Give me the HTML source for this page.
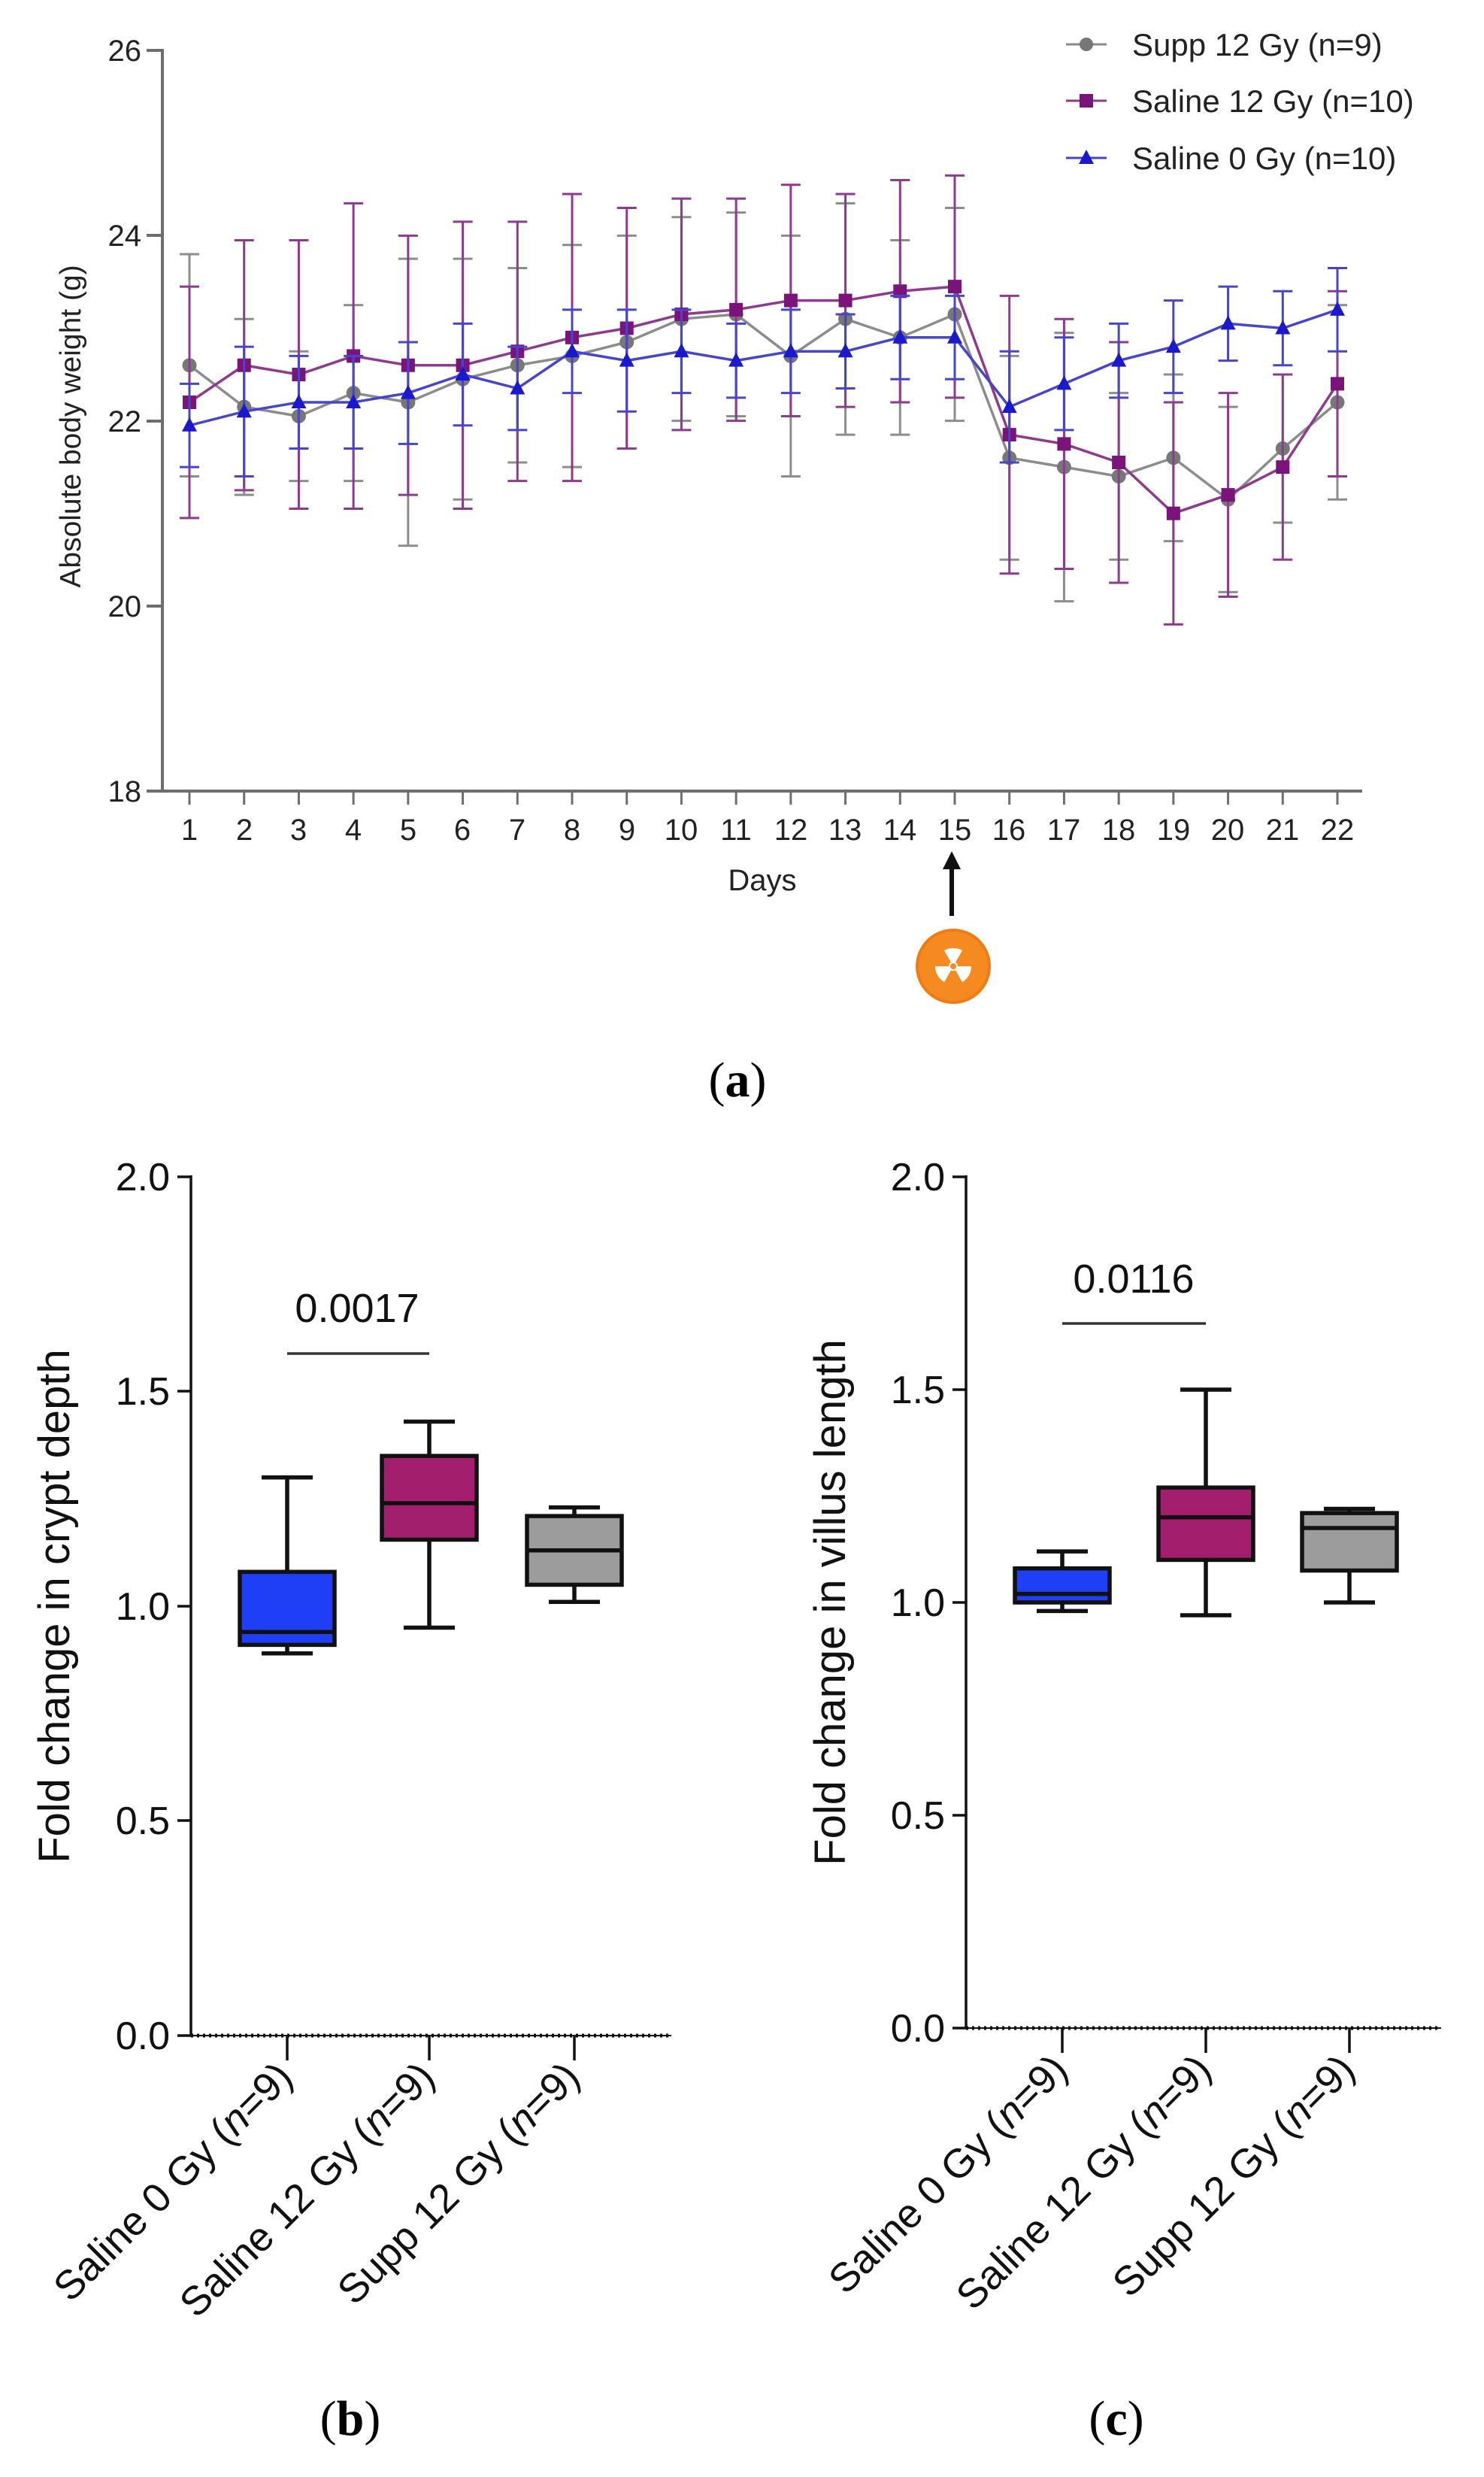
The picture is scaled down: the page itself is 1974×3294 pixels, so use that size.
<!DOCTYPE html>
<html><head><meta charset="utf-8"><style>
html,body{margin:0;padding:0;background:#fff}
svg{display:block}
text{font-family:"Liberation Sans",Arial,sans-serif}
text.cap{font-family:"Liberation Serif",serif}
</style></head><body>
<svg id="s" width="1974" height="3294" viewBox="0 0 1974 3294" xmlns="http://www.w3.org/2000/svg">
<rect width="1974" height="3294" fill="#fff"/>
<g stroke="#6e6e6e" stroke-width="4" fill="none">
<line x1="216" y1="65" x2="216" y2="1054"/>
<line x1="214" y1="1052" x2="1812" y2="1052"/>
<line x1="195" y1="67" x2="216" y2="67"/>
<line x1="195" y1="313" x2="216" y2="313"/>
<line x1="195" y1="560" x2="216" y2="560"/>
<line x1="195" y1="806" x2="216" y2="806"/>
<line x1="195" y1="1052" x2="216" y2="1052"/>
</g>
<g id="xt" stroke="#6e6e6e" stroke-width="3"></g>
<g font-size="40" fill="#222" text-anchor="end">
<text x="188" y="81">26</text><text x="188" y="327">24</text><text x="188" y="574">22</text><text x="188" y="820">20</text><text x="188" y="1066">18</text>
</g>
<g font-size="40" fill="#222" text-anchor="middle">
<text x="252" y="1117">1</text><text x="325" y="1117">2</text><text x="397" y="1117">3</text><text x="470" y="1117">4</text><text x="543" y="1117">5</text><text x="615" y="1117">6</text><text x="688" y="1117">7</text><text x="761" y="1117">8</text><text x="834" y="1117">9</text><text x="906" y="1117">10</text><text x="979" y="1117">11</text><text x="1052" y="1117">12</text><text x="1124" y="1117">13</text><text x="1197" y="1117">14</text><text x="1270" y="1117">15</text><text x="1342" y="1117">16</text><text x="1415" y="1117">17</text><text x="1488" y="1117">18</text><text x="1561" y="1117">19</text><text x="1633" y="1117">20</text><text x="1706" y="1117">21</text><text x="1779" y="1117">22</text>
<text x="1014" y="1184">Days</text>
</g>
<text transform="translate(107,567) rotate(-90)" font-size="39" fill="#222" text-anchor="middle">Absolute body weight (g)</text>
<g id="data"></g>
<g stroke-width="3">
<line x1="1418" y1="59" x2="1472" y2="59" stroke="#888"/><circle cx="1445" cy="59" r="9" fill="#777"/>
<line x1="1418" y1="134" x2="1472" y2="134" stroke="#8a3a8a"/><rect x="1436" y="125" width="18" height="18" fill="#7a137a"/>
<line x1="1418" y1="210" x2="1472" y2="210" stroke="#4444cc"/><polygon points="1445,199 1455,218 1435,218" fill="#1a1acc"/>
</g>
<g font-size="42" fill="#222">
<text x="1506" y="74">Supp 12 Gy (n=9)</text>
<text x="1506" y="149">Saline 12 Gy (n=10)</text>
<text x="1506" y="225">Saline 0 Gy (n=10)</text>
</g>
<line x1="1266" y1="1218" x2="1266" y2="1150" stroke="#111" stroke-width="6"/>
<polygon points="1266,1132 1254,1156 1278,1156" fill="#111"/>
<circle cx="1268" cy="1285" r="50" fill="#f07a14"/>
<circle cx="1268" cy="1285" r="46" fill="#f58a20"/>
<g fill="#fff">
<path d="M1268,1285 L1256,1264 A24,24 0 0 1 1280,1264 Z"/>
<path d="M1268,1285 L1292,1285 A24,24 0 0 1 1280,1306 Z"/>
<path d="M1268,1285 L1256,1306 A24,24 0 0 1 1244,1285 Z"/>
<circle cx="1268" cy="1285" r="6"/>
</g>
<circle cx="1268" cy="1285" r="4" fill="#f58a20"/>
<text class="cap" x="981" y="1458" font-size="66" text-anchor="middle" fill="#000">(<tspan font-weight="bold">a</tspan>)</text>

<!-- Panel B -->
<g stroke="#111" stroke-width="3.5" fill="none">
<line x1="254" y1="1563" x2="254" y2="2707"/>
<line x1="236" y1="1565" x2="254" y2="1565"/><line x1="236" y1="1850" x2="254" y2="1850"/><line x1="236" y1="2136" x2="254" y2="2136"/><line x1="236" y1="2421" x2="254" y2="2421"/><line x1="236" y1="2707" x2="254" y2="2707"/>
<line x1="254" y1="2707" x2="893" y2="2707" stroke-dasharray="3,5" stroke-width="5"/>
<line x1="254" y1="2707" x2="893" y2="2707" stroke-width="2"/>
<line x1="382" y1="2707" x2="382" y2="2740"/><line x1="571" y1="2707" x2="571" y2="2740"/><line x1="764" y1="2707" x2="764" y2="2740"/>
<line x1="382" y1="1800" x2="571" y2="1800" stroke="#333"/>
</g>
<g font-size="52" fill="#111" text-anchor="end">
<text x="226" y="1583">2.0</text><text x="226" y="1868">1.5</text><text x="226" y="2154">1.0</text><text x="226" y="2439">0.5</text><text x="226" y="2725">0.0</text>
</g>
<text x="475" y="1758" font-size="54" text-anchor="middle" fill="#111">0.0017</text>
<text transform="translate(92,2136) rotate(-90)" font-size="58" text-anchor="middle" fill="#111">Fold change in crypt depth</text>
<g font-size="54" fill="#111" text-anchor="end">
<text transform="translate(392,2765) rotate(-45)">Saline 0 Gy (<tspan font-style="italic">n</tspan>=9)</text>
<text transform="translate(581,2765) rotate(-45)">Saline 12 Gy (<tspan font-style="italic">n</tspan>=9)</text>
<text transform="translate(774,2765) rotate(-45)">Supp 12 Gy (<tspan font-style="italic">n</tspan>=9)</text>
</g>
<text class="cap" x="466" y="3238" font-size="66" text-anchor="middle" fill="#000">(<tspan font-weight="bold">b</tspan>)</text>

<!-- Panel C -->
<g stroke="#111" stroke-width="3.5" fill="none">
<line x1="1285" y1="1563" x2="1285" y2="2697"/>
<line x1="1267" y1="1565" x2="1285" y2="1565"/><line x1="1267" y1="1848" x2="1285" y2="1848"/><line x1="1267" y1="2131" x2="1285" y2="2131"/><line x1="1267" y1="2414" x2="1285" y2="2414"/><line x1="1267" y1="2697" x2="1285" y2="2697"/>
<line x1="1285" y1="2697" x2="1917" y2="2697" stroke-dasharray="3,5" stroke-width="5"/>
<line x1="1285" y1="2697" x2="1917" y2="2697" stroke-width="2"/>
<line x1="1413" y1="2697" x2="1413" y2="2730"/><line x1="1604" y1="2697" x2="1604" y2="2730"/><line x1="1795" y1="2697" x2="1795" y2="2730"/>
<line x1="1413" y1="1760" x2="1604" y2="1760" stroke="#333"/>
</g>
<g font-size="52" fill="#111" text-anchor="end">
<text x="1257" y="1583">2.0</text><text x="1257" y="1866">1.5</text><text x="1257" y="2149">1.0</text><text x="1257" y="2432">0.5</text><text x="1257" y="2715">0.0</text>
</g>
<text x="1508" y="1719" font-size="54" text-anchor="middle" fill="#111">0.0116</text>
<text transform="translate(1124,2131) rotate(-90)" font-size="58" text-anchor="middle" fill="#111">Fold change in villus length</text>
<g font-size="54" fill="#111" text-anchor="end">
<text transform="translate(1423,2755) rotate(-45)">Saline 0 Gy (<tspan font-style="italic">n</tspan>=9)</text>
<text transform="translate(1614,2755) rotate(-45)">Saline 12 Gy (<tspan font-style="italic">n</tspan>=9)</text>
<text transform="translate(1805,2755) rotate(-45)">Supp 12 Gy (<tspan font-style="italic">n</tspan>=9)</text>
</g>
<text class="cap" x="1485" y="3238" font-size="66" text-anchor="middle" fill="#000">(<tspan font-weight="bold">c</tspan>)</text>
<g id="boxes"></g>
</svg>
<script>
var NS="http://www.w3.org/2000/svg";
function el(p,t,a){var e=document.createElementNS(NS,t);for(var k in a)e.setAttribute(k,a[k]);p.appendChild(e);return e;}
var xt=document.getElementById('xt');
function X(d){return 252+(d-1)*72.714;}
function Y(v){return 1052-(v-18)*123.1;}
for(var d=1;d<=22;d++)el(xt,'line',{x1:X(d),y1:1052,x2:X(d),y2:1070});
var g=document.getElementById('data');
var gray=[22.6,22.15,22.05,22.3,22.2,22.45,22.6,22.7,22.85,23.1,23.15,22.7,23.1,22.9,23.15,21.6,21.5,21.4,21.6,21.15,21.7,22.2];
var pur=[22.2,22.6,22.5,22.7,22.6,22.6,22.75,22.9,23.0,23.15,23.2,23.3,23.3,23.4,23.45,21.85,21.75,21.55,21.0,21.2,21.5,22.4];
var blu=[21.95,22.1,22.2,22.2,22.3,22.5,22.35,22.75,22.65,22.75,22.65,22.75,22.75,22.9,22.9,22.15,22.4,22.65,22.8,23.05,23.0,23.2];
var ge=[1.2,0.95,0.7,0.95,1.55,1.3,1.05,1.2,1.15,1.1,1.1,1.3,1.25,1.05,1.15,1.1,1.45,0.9,0.9,1.0,0.8,1.05];
var pe=[1.25,1.35,1.45,1.65,1.4,1.55,1.4,1.55,1.3,1.25,1.2,1.25,1.15,1.2,1.2,1.5,1.35,1.3,1.2,1.1,1.0,1.0];
var be=[0.45,0.7,0.5,0.5,0.55,0.55,0.45,0.45,0.55,0.45,0.4,0.45,0.4,0.45,0.45,0.6,0.5,0.4,0.5,0.4,0.4,0.45];
function series(v,e,col,lc,mk){
 for(var i=0;i<22;i++){var x=X(i+1);
  el(g,'line',{x1:x,y1:Y(v[i]+e[i]),x2:x,y2:Y(v[i]-e[i]),stroke:lc,'stroke-width':3});
  el(g,'line',{x1:x-13,y1:Y(v[i]+e[i]),x2:x+13,y2:Y(v[i]+e[i]),stroke:lc,'stroke-width':3});
  el(g,'line',{x1:x-13,y1:Y(v[i]-e[i]),x2:x+13,y2:Y(v[i]-e[i]),stroke:lc,'stroke-width':3});}
 var p='';for(var i=0;i<22;i++)p+=(i?'L':'M')+X(i+1)+','+Y(v[i]);
 el(g,'path',{d:p,stroke:lc,'stroke-width':3.5,fill:'none'});
 for(var i=0;i<22;i++){var x=X(i+1),y=Y(v[i]);
  if(mk=='c')el(g,'circle',{cx:x,cy:y,r:9.5,fill:col});
  else if(mk=='s')el(g,'rect',{x:x-9,y:y-9,width:18,height:18,fill:col});
  else el(g,'polygon',{points:x+','+(y-11)+' '+(x+10)+','+(y+8)+' '+(x-10)+','+(y+8),fill:col});}
}
series(gray,ge,'#777','#8c8c8c','c');
series(pur,pe,'#7a137a','#8e3a8e','s');
series(blu,be,'#1a1acc','#4646cc','t');
var b=document.getElementById('boxes');
function box(cx,y0,sc,lo,q1,md,q3,hi,col){
 function Yb(v){return y0-v*sc;}
 el(b,'line',{x1:cx,y1:Yb(hi),x2:cx,y2:Yb(lo),stroke:'#111','stroke-width':5.5});
 el(b,'line',{x1:cx-34,y1:Yb(hi),x2:cx+34,y2:Yb(hi),stroke:'#111','stroke-width':5.5});
 el(b,'line',{x1:cx-34,y1:Yb(lo),x2:cx+34,y2:Yb(lo),stroke:'#111','stroke-width':5.5});
 el(b,'rect',{x:cx-63,y:Yb(q3),width:126,height:Yb(q1)-Yb(q3),fill:col,stroke:'#111','stroke-width':5.5});
 el(b,'line',{x1:cx-63,y1:Yb(md),x2:cx+63,y2:Yb(md),stroke:'#111','stroke-width':5.5});
}
box(382,2707,571,0.89,0.91,0.94,1.08,1.30,'#1f3ff6');
box(571,2707,571,0.95,1.155,1.24,1.35,1.43,'#a31e6c');
box(764,2707,571,1.01,1.05,1.13,1.21,1.23,'#9c9c9c');
box(1413,2697,566,0.98,1.0,1.02,1.08,1.12,'#1f3ff6');
box(1604,2697,566,0.97,1.10,1.20,1.27,1.50,'#a31e6c');
box(1795,2697,566,1.0,1.075,1.175,1.21,1.22,'#9c9c9c');
</script>
</body></html>
